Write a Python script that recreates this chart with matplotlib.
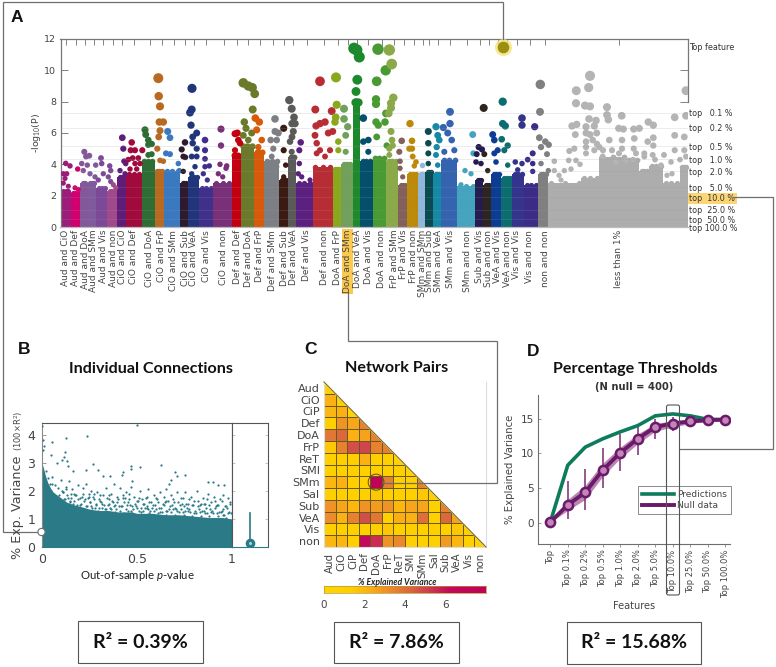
import matplotlib
matplotlib.use("Agg")
import matplotlib.pyplot as plt
import numpy as np
from matplotlib.colors import LinearSegmentedColormap
from matplotlib.patches import FancyBboxPatch, Rectangle, Circle

plt.rcParams['font.family'] = 'DejaVu Sans'
plt.rcParams['mathtext.fontset'] = 'custom'
plt.rcParams['mathtext.rm'] = 'Lato'
plt.rcParams['mathtext.it'] = 'Lato:italic'

# Panel A: feature axis runs over the same span as the figure width
group_names = ["Aud and CiO", "Aud and Def", "Aud and DoA", "Aud and SMm", "Aud and Vis", "Aud and non",
               "CiO and CiO", "CiO and Def", "CiO and DoA", "CiO and FrP", "CiO and SMm", "CiO and Sub",
               "CiO and VeA", "CiO and Vis", "CiO and non", "Def and Def", "Def and DoA", "Def and FrP",
               "Def and SMm", "Def and Sub", "Def and VeA", "Def and Vis", "Def and non", "DoA and FrP",
               "DoA and SMm", "DoA and VeA", "DoA and Vis", "DoA and non", "FrP and SMm", "FrP and Vis",
               "FrP and non", "SMm and SMm", "SMm and Sub", "SMm and VeA", "SMm and Vis", "SMm and non",
               "Sub and Vis", "Sub and non", "VeA and Vis", "VeA and non", "Vis and Vis", "Vis and non",
               "non and non", "less than 1%"]
tick_pos = [65.7, 76, 85.3, 94, 103, 113.3, 122.3, 134, 149.7, 161.7, 173.7, 185, 194, 206.3, 224, 237,
            248.3, 260, 272.7, 284.3, 293.3, 306.7, 324.3, 337.7, 347.7, 357.3, 368.3, 382, 394.3, 403.7,
            413.7, 422.7, 429.3, 438.3, 450.3, 467, 479.7, 488.7, 497.7, 507, 516.7, 529.7, 545, 618.7]
group_left = [60.3, 70.7, 80, 87.5, 96, 107.3, 117.3, 126, 141.7, 154.7, 164, 180.3, 188, 199.3, 213.3,
              231.7, 240.7, 254, 264, 279.3, 288, 296, 312.7, 332.7, 341.3, 352.7, 360, 372.7, 386, 398,
              407, 418.3, 425.3, 433, 441, 457, 475, 483, 491, 501, 512, 524, 538]
group_colors = ["#9b1c7a", "#d0006f", "#84579a", "#7f5a9c", "#7c4898", "#a04a8c", "#5f1c78", "#a00a3c",
                "#2e6e34", "#b86a20", "#3a78c0", "#2e1a2e", "#20357a", "#40308c", "#7a3078", "#c40010",
                "#6a7a2a", "#d85a08", "#7c8084", "#3c1a14", "#5a5a58", "#5c2080", "#b82c34", "#8aa81c",
                "#70a05a", "#1c8a2c", "#04506c", "#4a9a34", "#8aaa4a", "#84605c", "#bc8a08", "#90b8dc",
                "#0a4a50", "#1488a4", "#3464b0", "#44a4c0", "#241c50", "#2e2420", "#0c3c94", "#0c6c70",
                "#34348c", "#3c2c88", "#808080"]
group_solid = [2.3, 2.2, 2.8, 2.8, 2.5, 2.3, 3.2, 3.4, 4.2, 3.6, 3.6, 2.8, 3.2, 2.5, 2.8, 4.6, 5.2, 4.8,
               4.2, 3.0, 4.5, 2.8, 3.8, 3.7, 4.0, 8.0, 4.2, 4.4, 4.2, 2.7, 3.4, 3.4, 3.5, 3.4, 4.3, 2.6,
               3.0, 2.7, 3.4, 3.1, 3.4, 2.7, 3.4]
less_left = [548.3, 581, 599.3, 626, 639.3, 649.3, 663, 679.7]
less_right = [581, 599.3, 626, 639.3, 649.3, 663, 679.7, 688]
less_solid = [2.8, 3.1, 4.5, 4.3, 3.6, 3.9, 2.8, 3.8]

group_points = {
    "Aud and CiO": [(65.7, 4.06), (70, 3.9), (63.3, 3.4), (66.7, 3.4), (65, 3.1), (63.3, 2.8), (68.3, 2.6)],
    "Aud and Def": [(77.7, 3.7), (75, 2.5), (78.3, 2.4)],
    "Aud and DoA": [(84.3, 4.8), (89.3, 4.55), (86, 4.5), (81.7, 4.05), (87.3, 3.95), (83.3, 3.6)],
    "Aud and SMm": [(95.7, 3.95), (90, 3.4), (95, 3.2)],
    "Aud and Vis": [(101, 4.4), (109.7, 3.9), (101.7, 4.05), (110.7, 3.6), (103.3, 3.4), (108.3, 3.2), (110.7, 2.9), (98.3, 3)],
    "Aud and non": [(115.7, 2.5), (113.3, 2.7)],
    "CiO and CiO": [(122.3, 5.7), (123.3, 5.0), (125.7, 4.05), (124, 4.2), (120, 3.6), (125, 3.4)],
    "CiO and Def": [(131.7, 5.4), (130.7, 4.9), (135, 4.9), (142.3, 4.9), (132.7, 4.4), (128.3, 4.3), (138.3, 4.4), (140, 4.05), (135, 4.05), (130, 3.7), (136.7, 3.7)],
    "CiO and DoA": [(145, 6.2), (145.7, 5.9), (148.3, 5.55), (151.7, 5.3), (148.3, 5.25), (151.7, 4.65), (148.3, 4.6)],
    "CiO and FrP": [(158.3, 9.5), (158.7, 8.35), (160, 7.7), (159.3, 6.7), (163.3, 6.7), (160, 6.15), (158.7, 5.75), (157.3, 5), (160, 4.25), (163.3, 4.2)],
    "CiO and SMm": [(167.7, 6.1), (170, 5.7), (166, 4.7), (170, 4.65), (178.3, 4.05), (179.3, 3.6)],
    "CiO and Sub": [(185, 5.4), (181.7, 4.95), (183.3, 4.5), (185.3, 4.45), (183.3, 3.55)],
    "CiO and VeA": [(192, 8.85), (191.7, 7.5), (190, 7.3), (191, 6.5), (196.7, 6), (192.7, 5.75), (192.7, 5.35), (196.7, 5), (191.7, 4.5), (196.7, 4.5), (195, 3.85), (191.7, 3.4)],
    "CiO and Vis": [(205, 5.55), (205, 4.9), (205, 4.35), (209.3, 3.9), (205, 3.85), (203.3, 3.4), (207.3, 3)],
    "CiO and non": [(221, 6.25), (221, 5.2), (220, 4), (226.7, 3.9), (226, 3.75), (218.3, 3.4), (222.7, 3.2)],
    "Def and Def": [(235, 5.95), (237.3, 6), (238.3, 5.55), (235, 4.9), (240, 5.35), (236.7, 4.5)],
    "Def and DoA": [(243.3, 9.2), (248.3, 9), (252.3, 8.9), (254.7, 8.5), (252.7, 7.5), (244.3, 6.7), (246, 6.3), (243.3, 5.85), (251.7, 6), (248.3, 5.55)],
    "Def and FrP": [(255.3, 6.95), (259.3, 6.7), (256.7, 6.2), (261.7, 5.55), (258.3, 5.1)],
    "Def and SMm": [(275, 6.9), (275, 6.1), (278.3, 6), (270.7, 5.55), (276.7, 5.55), (273.3, 5), (271.7, 4.5), (276.7, 3.85)],
    "Def and Sub": [(283.7, 6.3), (283.7, 4.9), (285.7, 3.95), (283.7, 3.2)],
    "Def and VeA": [(289.3, 8.1), (291.7, 7.55), (294, 7), (292, 6.6), (295, 6.6), (293.3, 6.1), (292, 5.75), (290, 5.45), (291.7, 4.8)],
    "Def and Vis": [(300.7, 5.4), (299.3, 4.9), (299.3, 4.05), (298.3, 3.4), (301.7, 3.2), (310, 3)],
    "Def and non": [(320, 9.3), (315.3, 7.5), (331.7, 7.4), (325, 6.7), (320, 6.6), (316, 6.45), (315, 5.85), (328.3, 6), (332.7, 6.1), (316.7, 5.35), (320, 4.9), (330, 4.9), (316.7, 4.7), (325, 4.5)],
    "DoA and FrP": [(336, 9.55), (336.7, 7.8), (335.7, 7), (335, 6.7), (338.3, 5.45), (338.3, 4.9)],
    "DoA and SMm": [(344, 7.55), (344, 6.9), (347.7, 6.4), (345.7, 5.85), (345.7, 4.8)],
    "DoA and VeA": [(354, 11.4), (356.7, 11.3), (359.3, 10.85), (357.3, 9.4), (356, 8.65)],
    "DoA and Vis": [(363.3, 6.95), (368.3, 5.55), (363.3, 5.45), (368.3, 4.8)],
    "DoA and non": [(378, 11.35), (385.7, 10), (376.7, 9.3), (376, 8.15), (376, 7.85), (386, 7.25), (376, 6.7), (378.3, 6.5), (385, 6.7), (376.7, 5.75), (386.7, 5.2)],
    "FrP and SMm": [(389.3, 11.3), (391.7, 10.4), (393.3, 8.25), (391, 7.9), (391, 7.6), (388.7, 7.25), (391, 6.1), (392, 5.55), (389.3, 5), (392.7, 5.2), (389.3, 4.6)],
    "FrP and Vis": [(401.7, 5.5), (399.3, 4.8), (400, 4.2), (400, 3.75), (402.7, 3.2)],
    "FrP and non": [(410, 6.6), (412, 5.5), (412, 5), (409.3, 5), (412.7, 4.5), (416, 4.15), (414.3, 3.9)],
    "SMm and SMm": [(422, 3.95)],
    "SMm and Sub": [(428.3, 6.1), (428.3, 5.35), (428.3, 4.7), (428.3, 4.05)],
    "SMm and VeA": [(436, 6.4), (437.7, 5.85), (439.3, 5.55), (436.7, 5.1), (436, 4.6), (437.7, 3.95)],
    "SMm and Vis": [(450, 7.35), (450, 6.6), (443.3, 6.35), (447.7, 6), (451.7, 5.55), (454.3, 4.9), (444.3, 4.8)],
    "SMm and non": [(472.7, 5.9), (473.3, 4.7), (465, 3.6), (461, 2.7), (471, 3.4)],
    "Sub and Vis": [(478.7, 5.1), (482, 4.95), (476.7, 4.65), (476, 4.15), (481, 4.05)],
    "Sub and non": [(483.7, 7.6), (484.3, 4.65), (487.7, 3.6)],
    "VeA and Vis": [(492.7, 5.9), (494.3, 5.55), (497.7, 4.9), (494.3, 4.7), (496, 4.15)],
    "VeA and non": [(502.7, 8), (502.7, 6.6), (505.3, 6.45), (501.7, 5.6), (507.7, 5.2), (504.3, 4.9), (507.7, 3.95)],
    "Vis and Vis": [(522, 6.95), (522, 6.5), (515.3, 4.15), (522, 4.05), (517.7, 3.65)],
    "Vis and non": [(534.7, 6.4), (532.7, 4.7), (527.7, 4.3), (532.7, 4.05), (532.7, 3.55)],
    "non and non": [(540.3, 9.1), (540, 7.35), (539.3, 5.7), (545.3, 5.45), (548.7, 5.25), (541, 5.1), (547, 4.65), (541, 4.05), (548.3, 3.6)],
}
less_points = [(590, 9.65), (576.3, 8.7), (588.7, 8.9), (686, 8.7), (576, 7.9), (585, 7.75), (590, 7.7), (607, 7.65),
               (607, 7.15), (608.3, 6.85), (621.7, 7.1), (674.7, 7), (686, 7.1), (589, 6.9), (596, 6.8), (576.7, 6.55),
               (572, 6.45), (586, 6.4), (594.3, 6.45), (618.7, 6.3), (623.3, 6.25), (633.7, 6.25), (639.3, 6.3),
               (648.3, 6.7), (653.3, 6.5), (575.3, 5.9), (586, 6), (596.7, 6), (674.7, 5.85), (684.3, 5.75), (634.3, 5.65),
               (653.3, 5.7), (647.7, 5.45), (609.3, 5.55), (622, 5.55), (586, 5.45), (592.7, 5.55), (586, 5.1), (599.3, 5.1),
               (574.3, 5), (569.3, 4.85), (622, 5), (633.7, 5), (653.3, 5.2), (674.7, 4.9), (684.3, 4.9), (686, 4.5),
               (664, 4.6), (636, 4.7), (644.3, 4.7), (554.3, 4.2), (568.7, 4.25), (576, 4.25), (616, 4.15), (626, 4.25),
               (652.7, 4.6), (644.3, 4.5), (671, 4.15), (661, 3.95), (564.3, 3.6), (554.3, 3.6), (561, 3), (586, 4.7),
               (594.3, 4.9), (602.7, 4.5), (590, 5.9), (597, 5.3), (603, 4.9), (580, 4.0), (612, 4.9), (619, 4.7),
               (571, 3.7), (559, 3.3), (633, 4.3), (655, 4.3), (672, 3.4), (667, 3.3), (680, 4.3)]
threshold_vals = [11.5, 7.28, 6.32, 5.17, 4.34, 3.57, 2.55, 1.9, 1.09, 0.51, 0.0]
threshold_labels = ["Top feature", "top   0.1 %", "top   0.2 %", "top   0.5 %", "top   1.0 %", "top   2.0 %",
                    "top   5.0 %", "top  10.0 %", "top  25.0 %", "top  50.0 %", "top 100.0 %"]

# Panel B
pval_top = [.5, .002, .124, .235, .054, .007, .01, .007, .045, .12, .115, .103, .13, .077, .266, .23, .296, .165,
            .138, .468, .515, .466, .625, .70, .755, .71, .427, .419, .357, .322, .68, .67, .476, .874, .9, .926, .956]
r2_top = [4.36, 4.3, 3.9, 3.95, 3.74, 3.82, 3.6, 3.44, 3.27, 3.38, 3.2, 3.11, 3.08, 2.98, 2.96, 2.74, 2.74, 2.72,
          2.9, 2.9, 2.84, 2.78, 2.93, 2.69, 2.57, 2.53, 2.66, 2.56, 2.54, 2.54, 2.38, 2.24, 2.36, 2.3, 2.3, 2.2, 2.2]
pval_cloud = [.03, .05, .07, .085, .1, .11, .125, .14, .15, .16, .18, .19, .2, .215, .23, .245, .26, .275, .29,
              .305, .32, .335, .35, .365, .38, .395, .41, .425, .44, .455, .47, .485, .5, .515, .53, .545, .56,
              .575, .59, .605, .62, .635, .65, .665, .68, .695, .71, .725, .74, .755, .77, .785, .8, .815, .83,
              .845, .86, .875, .89, .905, .92, .935, .95, .965, .98, .99,
              .04, .06, .09, .12, .135, .17, .205, .225, .25, .285, .315, .345, .375, .405, .435, .465, .495,
              .525, .555, .585, .615, .645, .675, .705, .735, .765, .795, .825, .855, .885, .915, .945, .975,
              .035, .075, .105, .145, .185, .235, .265, .3, .33, .36, .39, .42, .45, .48, .51, .54, .57, .6,
              .63, .66, .69, .72, .75, .78, .81, .84, .87, .9, .93, .96, .995,
              .02, .055, .095, .155, .195, .255, .295, .34, .385, .43, .475, .52, .565, .61, .655, .7, .745,
              .79, .835, .88, .925, .97]
r2_cloud = [2.45, 2.5, 2.2, 2.1, 2.4, 1.95, 2.15, 2.35, 1.9, 2.05, 1.85, 2.2, 1.75, 2.1, 2.25, 1.8, 2.0, 1.7, 1.95,
            1.65, 1.85, 2.1, 1.7, 1.9, 2.25, 1.6, 2.1, 1.75, 1.95, 1.6, 2.15, 1.8, 1.65, 2.0, 1.55, 1.75, 2.05,
            1.6, 1.85, 1.7, 1.95, 1.55, 2.05, 1.65, 1.85, 1.6, 1.95, 1.5, 1.75, 1.95, 1.55, 1.8, 1.65, 2.0, 1.5,
            1.75, 1.55, 1.9, 1.6, 1.8, 1.5, 1.7, 1.85, 1.45, 1.75, 1.55,
            2.25, 1.9, 1.85, 1.7, 1.75, 1.65, 1.55, 1.7, 1.6, 1.5, 1.55, 1.5, 1.6, 1.45, 1.75, 1.5, 1.45,
            1.7, 1.4, 1.5, 1.4, 1.6, 1.45, 1.35, 1.55, 1.4, 1.5, 1.35, 1.55, 1.35, 1.45, 1.3, 1.4,
            2.0, 1.6, 2.0, 1.65, 1.5, 1.45, 1.4, 1.4, 1.35, 1.4, 1.35, 1.45, 1.3, 1.35, 1.3, 1.4, 1.3, 1.35,
            1.25, 1.3, 1.35, 1.25, 1.3, 1.25, 1.2, 1.3, 1.2, 1.2, 1.25, 1.15, 1.2,
            2.7, 2.25, 1.6, 1.45, 1.35, 1.3, 1.3, 1.25, 1.25, 1.2, 1.2, 1.25, 1.2, 1.2, 1.15, 1.15, 1.15,
            1.1, 1.1, 1.1, 1.1, 1.05]
pval_dense = [.11, .13, .155, .17, .19, .21, .22, .24, .255, .27, .285, .3, .31, .325, .34, .355, .37, .385, .4,
              .415, .43, .445, .46, .475, .49, .505, .52, .535, .55, .565, .58, .595, .61, .625, .64, .655, .67,
              .685, .7, .715, .73, .745, .76, .775, .79, .805, .82, .835, .85, .865, .88, .895, .91, .925, .94,
              .955, .97, .985,
              .115, .145, .165, .2, .23, .26, .28, .315, .335, .365, .38, .41, .44, .47, .5, .53, .56, .59, .62,
              .65, .68, .71, .74, .77, .8, .83, .86, .89, .92, .95, .98,
              .125, .175, .215, .245, .275, .305, .35, .395, .425, .46, .51, .55, .6, .64, .69, .73, .775, .82,
              .87, .91, .945, .99]
r2_dense = [1.95, 1.85, 1.75, 1.9, 1.7, 1.8, 1.65, 1.75, 1.6, 1.8, 1.55, 1.7, 1.6, 1.5, 1.75, 1.55, 1.65, 1.5, 1.7,
            1.45, 1.6, 1.5, 1.7, 1.45, 1.55, 1.65, 1.4, 1.55, 1.45, 1.6, 1.4, 1.5, 1.6, 1.4, 1.5, 1.65, 1.35,
            1.5, 1.4, 1.6, 1.35, 1.45, 1.55, 1.35, 1.5, 1.3, 1.45, 1.55, 1.3, 1.4, 1.5, 1.3, 1.4, 1.5, 1.25,
            1.35, 1.45, 1.25,
            1.7, 1.6, 1.55, 1.5, 1.45, 1.45, 1.4, 1.4, 1.35, 1.35, 1.45, 1.3, 1.35, 1.3, 1.4, 1.3, 1.35, 1.3, 1.25,
            1.3, 1.25, 1.3, 1.25, 1.3, 1.2, 1.25, 1.2, 1.25, 1.2, 1.15, 1.2,
            2.05, 1.85, 1.9, 1.9, 1.9, 1.85, 1.85, 1.8, 1.85, 1.9, 1.75, 1.8, 1.75, 1.8, 1.7, 1.75, 1.7, 1.65,
            1.7, 1.65, 1.65, 1.6]
env_p = [0, .006, .012, .02, .03, .045, .06, .08, .1, .13, .17, .2, .25, .3, .35, .4, .47, .5, .58, .65, .72, .8, .88, .95, 1]
env_r = [3.0, 2.85, 2.7, 2.5, 2.3, 2.1, 1.95, 1.85, 1.75, 1.6, 1.5, 1.45, 1.35, 1.3, 1.3, 1.25, 1.25, 1.2, 1.2, 1.15, 1.15, 1.1, 1.05, 1.05, 1.0]
mean_r2 = 0.14
max_r2 = 1.2

# Panel C
networks = ["Aud", "CiO", "CiP", "Def", "DoA", "FrP", "ReT", "SMI", "SMm", "Sal", "Sub", "VeA", "Vis", "non"]
pair_rows = [[1.0],
             [2.2, 0.8],
             [2.0, 2.2, 0.5],
             [1.0, 3.0, 2.5, 3.5],
             [3.8, 4.2, 2.2, 2.6, 3.5],
             [1.5, 3.5, 4.8, 5.0, 3.5, 3.5],
             [1.0, 1.0, 1.0, 2.2, 1.0, 1.0, 0.8],
             [1.0, 1.0, 1.0, 1.0, 1.0, 1.0, 1.0, 0.5],
             [2.0, 2.2, 1.2, 0.8, 7.86, 3.5, 1.3, 1.0, 3.5],
             [1.0, 1.0, 1.0, 1.0, 1.5, 1.0, 1.0, 1.0, 1.5, 0.8],
             [3.0, 2.5, 2.0, 3.0, 2.8, 3.0, 2.0, 2.5, 2.5, 1.0, 3.5],
             [3.2, 2.2, 3.5, 4.8, 3.8, 1.0, 2.3, 2.2, 4.0, 1.0, 4.2, 2.6],
             [1.3, 1.0, 1.0, 1.0, 1.0, 1.5, 1.0, 1.0, 1.0, 1.0, 1.0, 1.5, 1.0],
             [2.0, 2.0, 1.2, 6.3, 5.5, 3.0, 3.3, 1.0, 1.0, 1.0, 2.8, 2.0, 1.0, 0.8]]

# Panel D
features = ["Top", "Top 0.1%", "Top 0.2%", "Top 0.5%", "Top 1.0%", "Top 2.0%", "Top 5.0%", "Top 10.0%", "Top 25.0%",
            "Top 50.0%", "Top 100.0%"]
pred = [0.1, 8.3, 10.9, 12.1, 13.1, 14.0, 15.4, 15.68, 15.4, 14.9, 14.85]
null_mean = [0.1, 2.6, 4.4, 7.6, 10.1, 12.1, 13.8, 14.3, 14.6, 14.8, 14.85]
null_low = [0.1, 0.6, 1.9, 5.0, 7.5, 9.7, 12.0, 13.2, 14.0, 14.5, 14.7]
null_high = [0.1, 6.0, 7.8, 10.8, 12.8, 14.0, 15.0, 15.3, 15.3, 15.1, 15.0]
band_low = [0.1, 1.8, 3.4, 6.7, 9.3, 11.4, 13.2, 13.8, 14.3, 14.6, 14.8]
band_high = [0.1, 3.4, 5.4, 8.6, 10.9, 12.8, 14.3, 14.7, 14.9, 15.0, 14.9]

fig = plt.figure(figsize=(7.76, 6.67), dpi=100)


def axes_px(left, top, right, bottom):
    return fig.add_axes([left / 776, 1 - bottom / 667, (right - left) / 776, (bottom - top) / 667])


def dot_size(v):
    d = np.interp(v, [2, 4, 6.7, 8.35, 9.5, 11.4], [5, 5.5, 7.5, 8.5, 10, 11.5])
    return (d * 0.72) ** 2


txt = "#444444"
line_gray = "#6e6e6e"

# ---- Panel A
ax = axes_px(60.5, 39, 688, 227)
ax.set_xlim(60.5, 688)
ax.set_ylim(0, 12)
for left, right, h, c in zip(group_left, group_left[1:] + [548.3], group_solid, group_colors):
    ax.bar(left, h, width=right - left, align='edge', color=c, linewidth=0, zorder=2)
    # rounded tops on each column
    ax.scatter([left + 2.5, (left + right) / 2, right - 2.5], [h, h, h], s=dot_size(h), color=c, linewidths=0, zorder=2)
for left, right, h in zip(less_left, less_right, less_solid):
    ax.bar(left, h, width=right - left, align='edge', color="#adadad", linewidth=0, zorder=2)
    ax.scatter([left + 2.5, (left + right) / 2, right - 2.5], [h, h, h], s=dot_size(h), color="#adadad", linewidths=0,
               zorder=2, clip_on=True)
for name, c in zip(group_names, group_colors):
    xs = [p[0] for p in group_points[name]]
    vs = [p[1] for p in group_points[name]]
    ax.scatter(xs, vs, s=dot_size(np.array(vs)), color=c, linewidths=0, zorder=3)
xs = [p[0] for p in less_points]
vs = [p[1] for p in less_points]
ax.scatter(xs, vs, s=dot_size(np.array(vs)), color="#b4b4b4", linewidths=0, zorder=3)
ax.scatter([503], [threshold_vals[0]], s=150, color="#f5e27a", alpha=0.8, linewidths=0, zorder=4)
ax.scatter([503], [threshold_vals[0]], s=70, color="#9a8f10", linewidths=0, zorder=5)
for v in threshold_vals[1:-1]:
    ax.axhline(v, color="#999999", alpha=0.22, lw=0.6, zorder=4)
ax.set_yticks(range(0, 13, 2))
ax.set_xticks(tick_pos)
ax.set_xticklabels(group_names, rotation=90, fontsize=6.5, color=txt)
ax.tick_params(axis='x', top=True, bottom=False, direction='in', length=4, width=0.6, color=line_gray, pad=2)
ax.tick_params(axis='y', direction='in', length=5, width=0.6, color=line_gray, labelsize=6.8, labelcolor=txt, pad=3)
for s in ax.spines.values():
    s.set_color("#777777")
    s.set_linewidth(0.9)
ax.spines['right'].set_bounds(8, 12)
ax.spines['bottom'].set_color("#bbbbbb")
ax.get_xticklabels()[24].set_bbox(dict(facecolor="#fbc94f", edgecolor="none", pad=0.8))
ax.set_ylabel("-log$_{10}$(P)", fontsize=6.8, color=txt, labelpad=1, family='DejaVu Sans')

ax_r = ax.twinx()
ax_r.set_ylim(0, 12)
ax_r.set_yticks(threshold_vals)
ax_r.set_yticklabels(threshold_labels, fontsize=5.8, color="#333333")
ax_r.tick_params(axis='y', which='major', length=0, pad=1)
ax_r.set_yticks([8, 10], minor=True)
ax_r.tick_params(axis='y', which='minor', direction='in', length=6, width=0.6, color=line_gray)
for s in ax_r.spines.values():
    s.set_visible(False)
ax_r.get_yticklabels()[7].set_bbox(dict(facecolor="#fdd575", edgecolor="none", pad=0.8))

# ---- Panel B
ax = axes_px(42, 423, 232, 547)
ax.set_xlim(0, 1)
ax.set_ylim(0, 4.42)
teal = "#2a7a88"
ax.fill_between(env_p, 0, env_r, color=teal, linewidth=0, zorder=2)
ax.scatter(pval_cloud, r2_cloud, s=2.6, color=teal, linewidths=0, zorder=3)
ax.scatter(pval_dense, r2_dense, s=2.6, color=teal, linewidths=0, zorder=3)
ax.scatter(pval_top, r2_top, s=2.6, color=teal, linewidths=0, zorder=3)
ax.set_xticks([0, 0.5, 1])
ax.set_xticklabels(["0", "0.5", "1"])
ax.set_yticks([0, 1, 2, 3, 4])
ax.tick_params(axis='both', direction='in', length=3, width=0.5, labelsize=9, labelcolor=txt, color=line_gray, pad=4)
ax.tick_params(axis='y', pad=5)
ax.set_xlabel(r"Out-of-sample $\mathit{p}$-value", fontsize=8.2, color="#222222", family='Lato', labelpad=2)
ax.spines['top'].set_color("#555555")
ax.spines['bottom'].set_color(teal)
ax.spines['left'].set_color("#888888")
ax.spines['right'].set_color("#555555")

ax2 = axes_px(232, 423, 267.5, 547)
ax2.set_xlim(0, 1)
ax2.set_ylim(0, 4.42)
ax2.plot([0.5, 0.5], [0, max_r2], color=teal, lw=1.2)
ax2.scatter([0.5], [mean_r2], s=48, color=teal, linewidths=0, zorder=3)
ax2.scatter([0.5], [mean_r2], s=5, color="#9fd4d8", linewidths=0, zorder=4)
ax2.set_xticks([])
ax2.set_yticks([0, 1, 2, 3, 4])
ax2.set_yticklabels([])
ax2.tick_params(axis='y', direction='in', length=2, width=0.4, color="#999999", right=True, left=True)
for s in ax2.spines.values():
    s.set_color("#555555")
ax2.spines['bottom'].set_color(teal)

# ---- Panel C
ax = axes_px(324, 382, 486, 547)
cmap = LinearSegmentedColormap.from_list("yr", [(0, "#ffd400"), (0.16, "#ffcf00"), (0.28, "#fbaf14"), (0.4, "#ec8c2a"),
                                                (0.52, "#dc6a3c"), (0.65, "#cc3c52"), (0.78, "#c4085c"), (1, "#c00058")])
n = len(networks)
mat = np.full((n, n), np.nan)
for i, row in enumerate(pair_rows):
    mat[i, :len(row)] = row
ax.pcolormesh(np.arange(n + 1), np.arange(n + 1), np.ma.masked_invalid(mat), cmap=cmap, vmin=0, vmax=8,
              edgecolors="#6b5a1e", linewidth=0.6)
ax.set_xlim(0, n)
ax.set_ylim(n, 0)
ax.fill([0, n, n], [0, 0, n], color="white", zorder=3)
ax.plot([0, n], [0, n], color="#7a6a20", lw=0.8, zorder=4, clip_on=False)
ax.add_patch(Circle((4.5, 8.5), 0.68, fill=False, edgecolor="#5a4a20", lw=0.7, zorder=5))
ax.set_xticks(np.arange(n) + 0.5)
ax.set_xticklabels(networks, rotation=90, fontsize=7.4, color=txt)
ax.set_yticks(np.arange(n) + 0.5)
ax.set_yticklabels(networks, fontsize=8, color=txt)
ax.tick_params(axis='both', length=0, pad=3)
ax.tick_params(axis='x', pad=4)
for s in ax.spines.values():
    s.set_color("#dddddd")

cax = axes_px(324, 586, 486, 593)
cax.pcolormesh(np.linspace(0, 8, 129), [0, 1], np.linspace(0, 8, 128)[None, :], cmap=cmap, vmin=0, vmax=8)
cax.set_yticks([])
cax.set_xticks([0, 2, 4, 6])
cax.tick_params(axis='x', length=0, labelsize=7.5, labelcolor=txt, pad=5)
for s in cax.spines.values():
    s.set_color("#b09a30")
    s.set_linewidth(0.5)

# ---- Panel D
ax = axes_px(538, 395, 730, 544)
x = np.arange(len(features))
green = "#0e7c5c"
purple = "#6a1a6a"
ax.fill_between(x, band_low, band_high, color="#a0508f", alpha=0.7, linewidth=0, zorder=2)
ax.vlines(x, null_low, null_high, color="#7b2a72", lw=1.1, zorder=3)
ax.plot(x, pred, color=green, lw=2.6, label="Predictions", zorder=4)
ax.plot(x, null_mean, color=purple, lw=2.8, label="Null data", zorder=5)
ax.plot(x, null_mean, 'o', ms=6.6, mfc="#c487b5", mec=purple, mew=1.8, zorder=6)
ax.set_xlim(-0.7, 10.27)
ax.set_ylim(-3.03, 18.4)
ax.set_xticks(x)
ax.set_xticklabels(features, rotation=90, fontsize=6, color=txt)
ax.set_yticks([0, 5, 10, 15])
ax.tick_params(axis='x', direction='out', length=2, width=0.5, color=line_gray, pad=2)
ax.tick_params(axis='y', direction='in', length=2, width=0.5, color=line_gray, labelsize=7.5, labelcolor=txt, pad=3)
ax.set_xlabel("Features", fontsize=7, color=txt, labelpad=2)
ax.set_ylabel("% Explained Variance", fontsize=7.3, color=txt, labelpad=4)
ax.spines['top'].set_visible(False)
ax.spines['right'].set_visible(False)
ax.spines['left'].set_color(line_gray)
ax.spines['bottom'].set_color(line_gray)
leg = ax.legend(loc='lower right', bbox_to_anchor=(1.005, 0.2), borderaxespad=0, fontsize=6.5, fancybox=False,
                edgecolor="#777777", framealpha=1, handlelength=3.6, handletextpad=0.3, labelspacing=0.2,
                borderpad=0.45, labelcolor=txt)
leg.get_frame().set_linewidth(0.6)

# ---- overlay in pixel coordinates: connectors, boxes, headings
ov = fig.add_axes([0, 0, 1, 1], zorder=20)
ov.set_xlim(0, 776)
ov.set_ylim(667, 0)
ov.axis('off')
ov.patch.set_alpha(0)
conn = dict(color=line_gray, lw=0.9, solid_joinstyle='miter')
ov.plot([37, 3, 3, 503, 503], [532, 532, 2, 2, 39], **conn)
ov.plot([347.7, 347.7, 497, 497, 383], [293, 341, 341, 483, 483], **conn)
ov.plot([733, 773, 773, 680], [197, 197, 449, 449], **conn)
ov.add_patch(Circle((41.5, 532), 3.6, fill=True, facecolor="white", edgecolor=line_gray, lw=0.8))
ov.add_patch(FancyBboxPatch((666.5, 405), 13, 190, boxstyle="round,pad=0,rounding_size=2", fill=False,
                            edgecolor="#555555", lw=0.8))
ov.text(11, 18, "A", fontsize=12.5, fontweight='bold', family='Liberation Sans', va='center', color="#111111")
ov.text(18, 350, "B", fontsize=12.5, fontweight='bold', family='Liberation Sans', va='center', color="#111111")
ov.text(304, 350, "C", fontsize=12.5, fontweight='bold', family='Liberation Sans', va='center', color="#111111")
ov.text(527, 351, "D", fontsize=12.5, fontweight='bold', family='Liberation Sans', va='center', color="#111111")
ov.text(151, 369, "Individual Connections", fontsize=11.6, fontweight='bold', family='Lato', ha='center', va='center', color="#111111")
ov.text(397, 368, "Network Pairs", fontsize=11.6, fontweight='bold', family='Lato', ha='center', va='center', color="#111111")
ov.text(635, 369, "Percentage Thresholds", fontsize=11.6, fontweight='bold', family='Lato', ha='center', va='center', color="#111111")
ov.text(634, 387, "(N null = 400)", fontsize=7.2, fontweight='bold', ha='center', va='center', color="#333333")
ov.text(18, 507, "% Exp. Variance", fontsize=9.2, rotation=90, ha='center', va='center', color=txt)
ov.text(18, 431, "(100\u00d7R$^{\\mathrm{2}}$)", fontsize=6, rotation=90, ha='center', va='center', color=txt)
ov.text(397, 582.5, "% Explained Variance", fontsize=6.2, fontstyle='italic', family='Lato', ha='center', va='center',
        color="#222222", fontweight='bold')
for left, top, right, bottom, label in [(78, 621, 203, 663, "R\u00b2 = 0.39%"), (334, 622, 459, 663, "R\u00b2 = 7.86%"),
                                        (567, 622, 701, 664, "R\u00b2 = 15.68%")]:
    ov.add_patch(Rectangle((left, top), right - left, bottom - top, fill=False, edgecolor="#555555", lw=0.8))
    ov.text((left + right) / 2, (top + bottom) / 2, label, fontsize=14, fontweight='bold', family='Lato',
            ha='center', va='center', color="#111111")

fig.savefig("out.png", dpi=100)
